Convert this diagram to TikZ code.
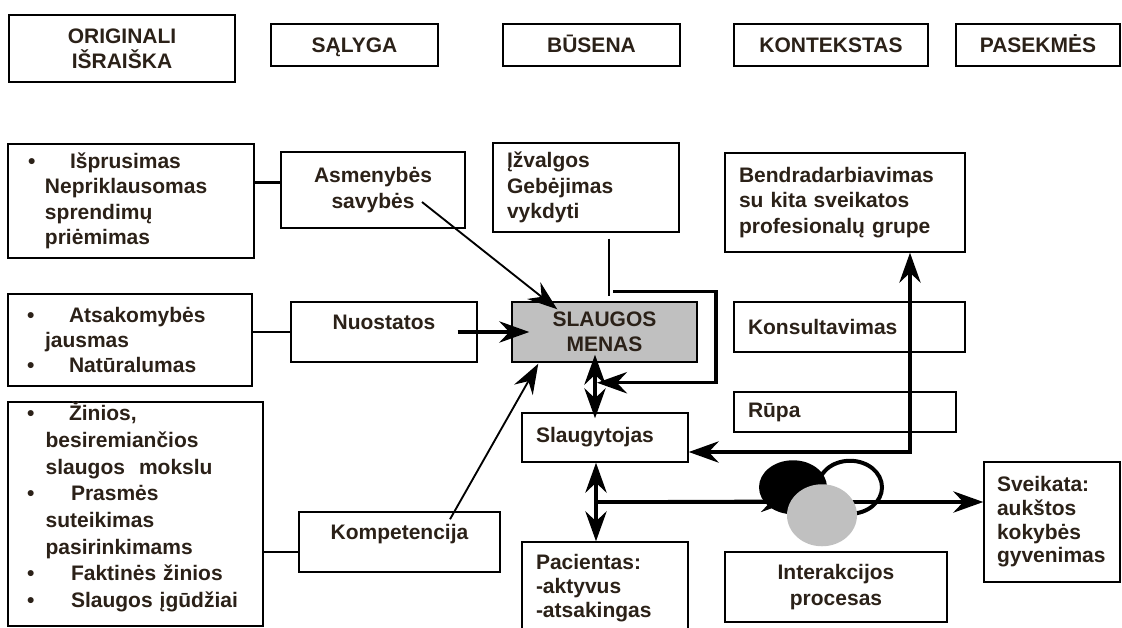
\documentclass[tikz,border=0pt]{standalone}
\usepackage{fontspec}
\setmainfont{Liberation Sans}
\usetikzlibrary{arrows.meta}
\usetikzlibrary{calc}
\definecolor{ink}{HTML}{2B2118}
\definecolor{artgray}{HTML}{C0C0C0}
\tikzset{box/.style = {draw, line width = 1.1pt, text = ink, inner sep = 0pt,
                       font = \fontsize{15.75}{19}\selectfont\bfseries}}
\tikzset{lbox/.style = {box, align = left, inner xsep = 10.5pt}}
\tikzset{cbox/.style = {box, align = center}}
\tikzset{head/.style = {cbox, minimum height = 31.5pt, text height = 11.3pt, text depth = 0pt}}
\tikzset{link/.style = {line width = 2.2pt}}
\tikzset{fat/.style = {line width = 2.6pt}}
\tikzset{slim/.style = {line width = 1.4pt}}
\tikzset{big/.tip = {Stealth[length = 22.5pt, width = 16pt, inset = 7.5pt]}}

\begin{document}
\begin{tikzpicture}[x = 0.75pt, y = -0.75pt]
      \useasboundingbox (0, 0) rectangle (1122, 628);

      \node [cbox, minimum width = 169.5pt, minimum height = 50.25pt] (orig) at (122, 48.5) {ORIGINALI\\IŠRAIŠKA};
      \node [head, minimum width = 125.25pt] (salyga) at (354.5, 45) {SĄLYGA};
      \node [head, minimum width = 132.75pt] (busena) at (591.5, 45) {BŪSENA};
      \node [head, minimum width = 145.5pt] (kont) at (831, 45) {KONTEKSTAS};
      \node [head, minimum width = 123pt] (pasek) at (1038, 45) {PASEKMĖS};

      \node [lbox, inner xsep = 15pt, text width = 154.5pt, minimum height = 85.5pt] (isp) at (131, 201)
        {\textbullet\hspace{26pt}Išprusimas\\
         \hspace*{12.75pt}Nepriklausomas\\
         \hspace*{12.75pt}sprendimų\\
         \hspace*{12.75pt}priėmimas};
      \node [cbox, minimum width = 138pt, minimum height = 57pt] (asm) at (373, 190) {Asmenybės\\savybės};
      \node [lbox, text width = 118.5pt, minimum height = 66.75pt] (izv) at (586, 187.5) {Įžvalgos\\Gebėjimas\\vykdyti};
      \node [lbox, text width = 159pt, minimum height = 74.25pt] (bendr) at (845, 202.5)
        {Bendradarbiavimas\\su kita sveikatos\\profesionalų grupe};

      \node [lbox, inner xsep = 14.25pt, text width = 154.5pt, minimum height = 69pt] (atsak) at (130, 340)
        {\textbullet\hspace{26pt}Atsakomybės\\
         \hspace*{13.5pt}jausmas\\
         \textbullet\hspace{26pt}Natūralumas};
      \node [cbox, minimum width = 139.5pt, minimum height = 45pt, text depth = 15pt] (nuost) at (384, 332) {Nuostatos};
      \node [cbox, fill = artgray, minimum width = 138.75pt, minimum height = 45pt] (menas) at (604.5, 332) {SLAUGOS\\MENAS};
      \node [lbox, text width = 152.25pt, minimum height = 37.5pt] (konsult) at (849.5, 327) {Konsultavimas};
      \node [lbox, text width = 145.5pt, minimum height = 30pt] (rupa) at (845, 412) {Rūpa};

      \node [lbox, inner xsep = 14.25pt, text width = 162.75pt, minimum height = 166.5pt,
             font = \fontsize{15.75}{20}\selectfont\bfseries] (zin) at (135.5, 514)
        {\textbullet\hspace{26pt}Žinios,\\
         \hspace*{14pt}besiremiančios\\
         \hspace*{14pt}slaugos~~mokslu\\
         \textbullet\hspace{27.5pt}Prasmės\\
         \hspace*{14pt}suteikimas\\
         \hspace*{14pt}pasirinkimams\\
         \textbullet\hspace{27.5pt}Faktinės žinios\\
         \textbullet\hspace{27.5pt}Slaugos įgūdžiai\par\vspace*{10.5pt}};
      \node [cbox, minimum width = 150.75pt, minimum height = 45pt, text depth = 15pt] (komp) at (399.5, 542) {Kompetencija};
      \node [lbox, text width = 103.5pt, minimum height = 36.75pt] (slaug) at (605, 437.5) {Slaugytojas};
      \node [lbox, text width = 103.5pt, minimum height = 69pt,
             font = \fontsize{15.75}{17.75}\selectfont\bfseries] (pac) at (605, 588) {Pacientas:\\-aktyvus\\-atsakingas};
      \node [cbox, minimum width = 166.5pt, minimum height = 52.5pt] (inter) at (836, 587) {Interakcijos\\procesas};
      \node [lbox, inner xsep = 9.75pt, text width = 82.5pt, minimum height = 90pt,
             font = \fontsize{15.75}{17.75}\selectfont\bfseries] (sveik) at (1052, 522)
        {Sveikata:\\aukštos\\kokybės\\gyvenimas};

      \coordinate (a1) at ($(asm.north west)!0.4!(asm.south west)$);
      \draw [link] (a1) -- (a1 -| isp.east);
      \draw [slim, -big] ([shift = {(49, 12)}]asm.center) -- ([shift = {(46, 8)}]menas.north west);
      \draw [link] (nuost.west) -- (nuost.west -| atsak.east);
      \draw [fat, -big] ([shift = {(-20, 0)}]nuost.east) -- ([shift = {(18, 0)}]menas.west);
      \coordinate (k1) at ([shift = {(0, 10)}]komp.west);
      \draw [link] (k1) -- (k1 -| zin.east);
      \draw [slim, -big] ([shift = {(50.5, 8)}]komp.north) -- ([shift = {(27, 1)}]menas.south west);

      \draw [slim] ([shift = {(23, 6)}]izv.south) -- ([shift = {(4.5, -5)}]menas.north);
      \coordinate (fb) at ([shift = {(8.5, -10)}]menas.north);
      \draw [fat, -big] (fb) -- ++(103, 0) |- ([shift = {(-7.5, 20)}]menas.south);
      \draw [fat, big-big] ([shift = {(-9.5, -8)}]menas.south) -- ([shift = {(-10, 6)}]slaug.north);
      \draw [fat, big-big] ([shift = {(0, 14.5)}]slaug.east) -| ([shift = {(65, 0)}]bendr.south);
      \draw [fat, big-big] ([shift = {(-9, 0)}]slaug.south) -- ([shift = {(-9, 0)}]pac.north);

      \coordinate (hub) at ($(slaug.south)!0.5!(pac.north) + (-9, 0)$);
      \coordinate (ic) at ([shift = {(-45, -50)}]inter.north);
      \draw [fat, -big] (hub) -- (ic);
      \draw [fat, -big] (hub) -- (hub -| sveik.west);

      \draw [line width = 3pt] ([shift = {(14, -64)}]inter.north) circle [x radius = 32, y radius = 26.5];
      \fill ([shift = {(-43, -64)}]inter.north) circle [x radius = 34, y radius = 27];
      \fill [artgray] ([shift = {(-14, -36)}]inter.north) circle [x radius = 35, y radius = 31];
\end{tikzpicture}
\end{document}
